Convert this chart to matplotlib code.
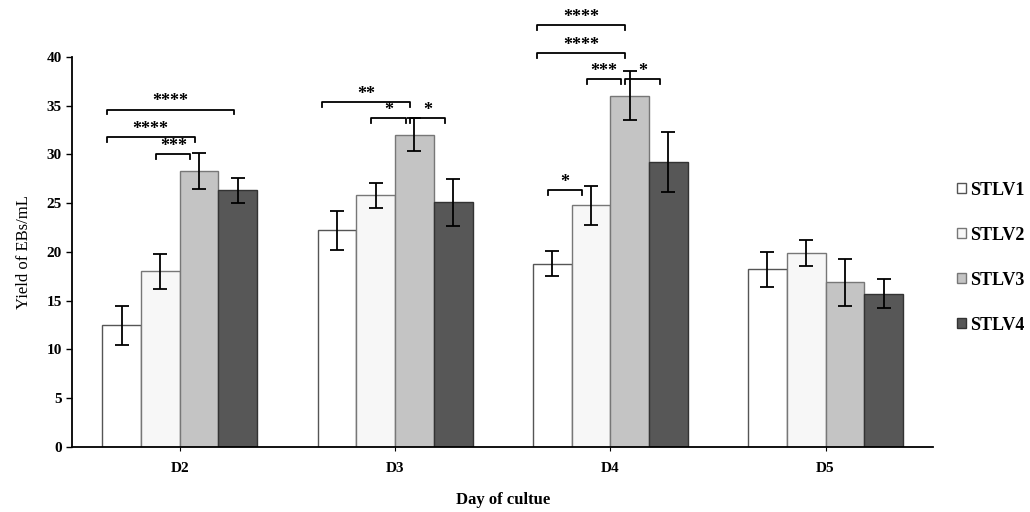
import matplotlib
matplotlib.use("Agg")
from matplotlib import pyplot as plt
import numpy as np

plt.rcParams['font.family'] = ['Liberation Serif', 'DejaVu Serif']

days = ["D2", "D3", "D4", "D5"]
series = ["STLV1", "STLV2", "STLV3", "STLV4"]
stlv1 = [12.5, 22.2, 18.8, 18.2]
stlv2 = [18.0, 25.8, 24.8, 19.9]
stlv3 = [28.3, 32.0, 36.0, 16.9]
stlv4 = [26.3, 25.1, 29.2, 15.7]
err1 = [2.0, 2.0, 1.3, 1.8]
err2 = [1.8, 1.3, 2.0, 1.3]
err3 = [1.8, 1.7, 2.5, 2.4]
err4 = [1.3, 2.4, 3.1, 1.5]

# significance brackets: day index, series a, series b, height, stars
sig_day = [0, 0, 0, 1, 1, 1, 2, 2, 2, 2, 2]
sig_a = [0, 0, 1, 0, 1, 2, 0, 0, 1, 2, 0]
sig_b = [3, 2, 2, 2, 2, 3, 2, 2, 2, 3, 1]
sig_h = [34.6, 31.8, 30.0, 35.4, 33.7, 33.7, 43.3, 40.4, 37.7, 37.7, 26.3]
sig_txt = ["****", "****", "***", "**", "*", "*", "****", "****", "***", "*", "*"]

colors = ["white", "#f7f7f7", "#c4c4c4", "#575757"]
edges = ["#555555", "#777777", "#777777", "#333333"]

fig = plt.figure(figsize=(10.3, 5.12), dpi=100)
ax = fig.add_axes([0.07, 0.127, 0.836, 0.762])

x = np.arange(len(days))
w = 0.18
vals = [stlv1, stlv2, stlv3, stlv4]
errs = [err1, err2, err3, err4]
for i in range(4):
    ax.bar(x + (i - 1.5) * w, vals[i], w, color=colors[i], edgecolor=edges[i],
           linewidth=1, label=series[i], zorder=2)
    ax.errorbar(x + (i - 1.5) * w, vals[i], yerr=errs[i], fmt="none",
                ecolor="black", elinewidth=1.3, capsize=5, capthick=1.3, zorder=3)

# brackets
for d, a, b, h, t in zip(sig_day, sig_a, sig_b, sig_h, sig_txt):
    x0 = x[d] + (a - 1.5) * w - 0.07
    x1 = x[d] + (b - 1.5) * w - 0.02
    if b - a == 1:
        x0 = x[d] + (a - 1.5) * w - 0.02
        x1 = x[d] + (b - 1.5) * w - 0.04
    ax.plot([x0, x0, x1, x1], [h - 0.5, h, h, h - 0.5], color="black", lw=1.3,
            clip_on=False)
    ax.text((x0 + x1) / 2, h - 0.1, t, ha="center", va="bottom", fontsize=13,
            fontweight="bold", clip_on=False)

ax.set_xlim(-0.5, 3.5)
ax.set_ylim(0, 40)
ax.set_yticks(range(0, 41, 5))
ax.set_xticks(x)
ax.set_xticklabels(days)
for lab in ax.get_xticklabels() + ax.get_yticklabels():
    lab.set_fontweight("bold")
    lab.set_fontsize(11)
ax.tick_params(axis="y", length=4, width=1)
ax.tick_params(axis="x", length=3, width=0.8, pad=8)
ax.spines["top"].set_visible(False)
ax.spines["right"].set_visible(False)
ax.spines["left"].set_linewidth(1.3)
ax.spines["bottom"].set_linewidth(1.3)
ax.set_xlabel("Day of cultue", fontsize=12, fontweight="bold", labelpad=12)
ax.set_ylabel("Yield of EBs/mL", fontsize=12, labelpad=10)

leg = fig.legend(loc="center left", bbox_to_anchor=(0.922, 0.497), frameon=False,
                 prop={"size": 13, "weight": "bold"}, handlelength=0.5,
                 handleheight=0.5, handletextpad=0.25, labelspacing=1.55,
                 borderpad=0.2, borderaxespad=0.2)

plt.savefig("out.png", dpi=100)
